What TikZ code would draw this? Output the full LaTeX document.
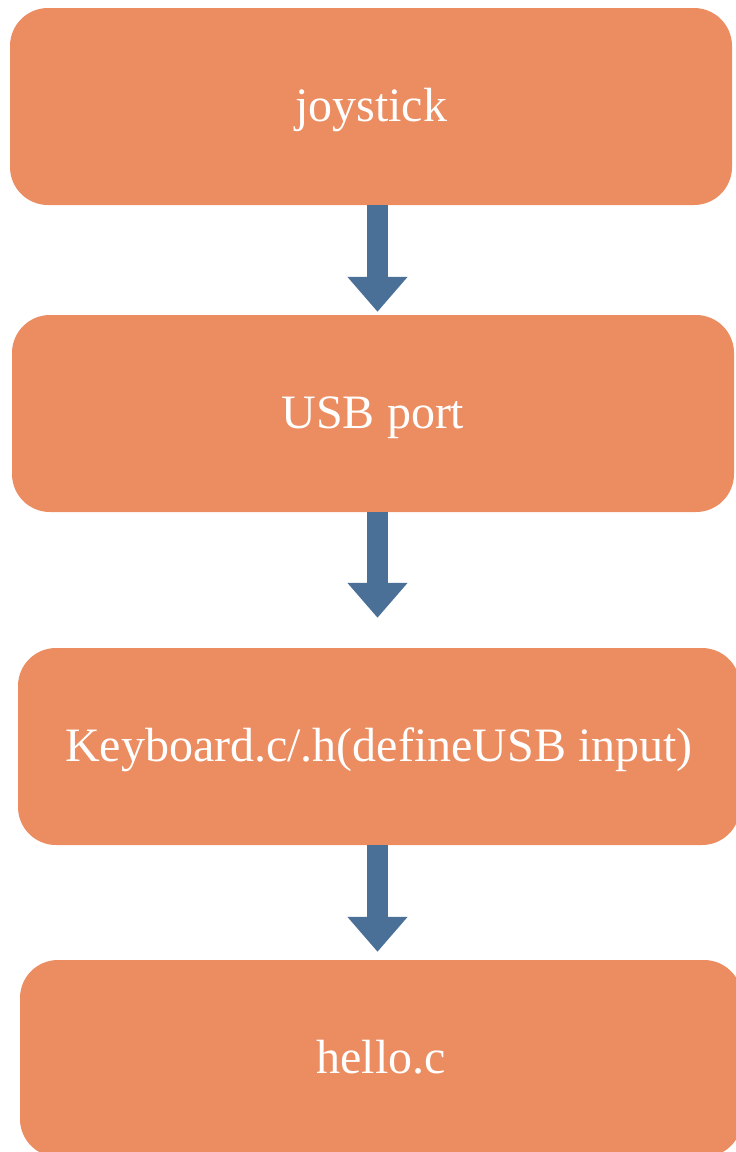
\documentclass[tikz,border=0pt]{standalone}
\usepackage{fontspec}
\setmainfont{Liberation Serif}
\usepackage{xcolor}
\usetikzlibrary{calc,positioning,arrows.meta}
\definecolor{color_box_orange}{HTML}{eb8c61}
\definecolor{color_arrow_blue}{HTML}{4b7097}

\begin{document}
\begin{tikzpicture}[x=1pt,y=-1pt,
		every node/.style={text=white,font=\fontsize{48}{52}\selectfont},
		stagebox/.style={fill=color_box_orange,rounded corners=38pt,minimum width=722pt,minimum height=197pt,inner sep=0pt,text depth=10pt,text height=39pt},
		flowarrow/.style={color_arrow_blue,line width=21pt,-{Triangle[width=58pt,length=35pt]}}
	]
				\useasboundingbox (0, 0) rectangle (736, 1152);
				% Boxes
				\node[stagebox] (joystick) at (371, 106.5) {joystick};
				\node[stagebox] (usbport) at (373, 413.5) {USB port};
				\node[stagebox] (keyboard) at (379, 746.5) {Keyboard.c/.h(defineUSB input)};
				\node[stagebox] (hello) at (381, 1058.5) {hello.c};

				% Arrow line
				\coordinate (AX) at (377.5, 0);

				% Arrows
				\draw[flowarrow,shorten >=3pt] (joystick.south -| AX) -- (usbport.north -| AX);
				\draw[flowarrow,shorten >=30pt] (usbport.south -| AX) -- (keyboard.north -| AX);
				\draw[flowarrow,shorten >=8pt] (keyboard.south -| AX) -- (hello.north -| AX);
			\end{tikzpicture}
\end{document}
